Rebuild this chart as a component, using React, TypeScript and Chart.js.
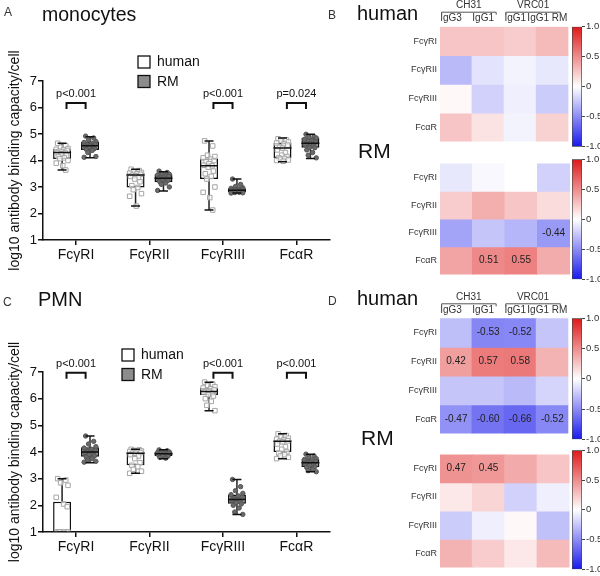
import React, { useEffect, useRef } from 'react';
import { Chart, registerables } from 'chart.js';

Chart.register(...registerables);

const FONT = "'Liberation Sans', Arial, Helvetica, sans-serif";

// ---------- Box plot data ----------
const categories = ['FcγRI', 'FcγRII', 'FcγRIII', 'FcαR'];
const yTicksBox = [1, 2, 3, 4, 5, 6, 7];
const seriesNames = ['human', 'RM'];

// [min, q1, median, q3, max]
const monoHumanStats = [
  [3.64, 4.06, 4.3, 4.43, 4.65],
  [2.28, 2.98, 3.45, 3.52, 3.67],
  [2.13, 3.3, 3.8, 4.08, 4.74],
  [3.95, 4.09, 4.47, 4.66, 4.85],
];
const monoRMStats = [
  [4.1, 4.4, 4.56, 4.71, 4.9],
  [2.85, 3.18, 3.33, 3.48, 3.58],
  [2.77, 2.8, 2.88, 2.95, 3.3],
  [4.08, 4.48, 4.65, 4.86, 4.99],
];
const pmnHumanStats = [
  [1.0, 1.0, 1.0, 2.13, 3.0],
  [3.2, 3.5, 3.95, 4.0, 4.1],
  [5.55, 6.14, 6.27, 6.4, 6.62],
  [3.75, 4.0, 4.4, 4.44, 4.68],
];
const pmnRMStats = [
  [3.6, 3.82, 4.0, 4.18, 4.6],
  [3.75, 3.85, 3.93, 4.0, 4.08],
  [1.66, 2.06, 2.22, 2.41, 2.97],
  [3.26, 3.44, 3.6, 3.73, 3.92],
];

const monoHumanPts = [
  [4.65, 4.55, 4.5, 4.45, 4.42, 4.4, 4.38, 4.35, 4.32, 4.3, 4.28, 4.25, 4.2, 4.15, 4.1, 4.07, 4.0, 3.9, 3.8, 3.64],
  [3.67, 3.62, 3.58, 3.55, 3.52, 3.5, 3.48, 3.45, 3.42, 3.4, 3.35, 3.3, 3.2, 3.05, 2.98, 2.9, 2.75, 2.65, 2.28],
  [4.74, 4.55, 4.2, 4.15, 4.1, 4.05, 4.0, 3.95, 3.88, 3.82, 3.8, 3.75, 3.6, 3.5, 3.4, 3.3, 3.0, 2.8, 2.6, 2.13],
  [4.82, 4.78, 4.75, 4.7, 4.66, 4.62, 4.58, 4.5, 4.47, 4.4, 4.3, 4.2, 4.15, 4.1, 4.08, 4.05, 4.02, 4.0, 3.97],
];
const monoRMPts = [
  [4.92, 4.85, 4.78, 4.72, 4.68, 4.65, 4.62, 4.6, 4.57, 4.55, 4.52, 4.5, 4.45, 4.42, 4.38, 4.3, 4.15, 4.12],
  [3.6, 3.55, 3.5, 3.48, 3.45, 3.42, 3.4, 3.37, 3.35, 3.33, 3.3, 3.28, 3.25, 3.2, 3.15, 3.1, 3.0, 2.87],
  [3.3, 3.1, 3.02, 2.97, 2.95, 2.93, 2.92, 2.9, 2.89, 2.88, 2.87, 2.85, 2.84, 2.82, 2.8, 2.79, 2.78, 2.77],
  [4.99, 4.9, 4.87, 4.85, 4.8, 4.75, 4.7, 4.66, 4.64, 4.6, 4.55, 4.5, 4.48, 4.4, 4.3, 4.2, 4.1],
];
const pmnHumanPts = [
  [3.0, 2.95, 2.85, 2.75, 2.3, 2.05, 1.95, 1.0, 1.0, 1.0, 1.0, 1.0, 1.0, 1.0, 1.0, 1.0, 1.0],
  [4.1, 4.08, 4.06, 4.04, 4.02, 4.0, 3.98, 3.96, 3.95, 3.9, 3.85, 3.75, 3.6, 3.5, 3.45, 3.35, 3.28, 3.2],
  [6.62, 6.55, 6.5, 6.45, 6.4, 6.37, 6.33, 6.3, 6.27, 6.25, 6.2, 6.15, 6.1, 6.0, 5.9, 5.75, 5.55],
  [4.68, 4.62, 4.58, 4.52, 4.48, 4.45, 4.42, 4.4, 4.38, 4.3, 4.2, 4.1, 4.0, 3.95, 3.9, 3.85, 3.8, 3.75],
];
const pmnRMPts = [
  [4.6, 4.4, 4.3, 4.2, 4.15, 4.1, 4.05, 4.02, 4.0, 3.97, 3.93, 3.9, 3.85, 3.8, 3.75, 3.7, 3.65, 3.62],
  [4.08, 4.05, 4.02, 4.0, 3.98, 3.96, 3.95, 3.93, 3.92, 3.9, 3.88, 3.86, 3.84, 3.8, 3.77],
  [2.97, 2.7, 2.55, 2.45, 2.4, 2.35, 2.3, 2.25, 2.22, 2.2, 2.15, 2.1, 2.05, 2.0, 1.9, 1.75, 1.66],
  [3.92, 3.85, 3.8, 3.75, 3.72, 3.68, 3.65, 3.62, 3.6, 3.57, 3.55, 3.5, 3.45, 3.42, 3.35, 3.3, 3.26],
];

const monoPLabels = ['p<0.001', '', 'p<0.001', 'p=0.024'];
const pmnPLabels = ['p<0.001', '', 'p<0.001', 'p<0.001'];

// ---------- Heatmap data ----------
const hmColumns = ['IgG3', 'IgG1', 'IgG1', 'IgG1 RM'];
const hmGroups = ['CH31', 'VRC01'];
const hmGroupSpans = [[0, 1], [2, 3]];
const hmRows = ['FcγRI', 'FcγRII', 'FcγRIII', 'FcαR'];
const colorbarTicks = [-1, -0.5, 0, 0.5, 1];
const SIG = 0.42;

const monoHumanCorr = [
  [0.25, 0.25, 0.22, 0.3],
  [-0.3, -0.12, -0.05, -0.1],
  [0.03, -0.2, -0.07, -0.22],
  [0.25, 0.12, -0.05, 0.2],
];
const monoRMCorr = [
  [-0.1, -0.03, 0.0, -0.2],
  [0.22, 0.35, 0.25, 0.15],
  [-0.4, -0.25, -0.32, -0.44],
  [0.4, 0.51, 0.55, 0.36],
];
const pmnHumanCorr = [
  [-0.28, -0.53, -0.52, -0.25],
  [0.42, 0.57, 0.58, 0.33],
  [-0.25, -0.25, -0.3, -0.18],
  [-0.47, -0.6, -0.66, -0.52],
];
const pmnRMCorr = [
  [0.47, 0.45, 0.37, 0.25],
  [0.1, 0.18, -0.2, -0.07],
  [-0.22, -0.07, 0.03, -0.27],
  [0.33, 0.22, 0.1, 0.3],
];

// ---------- styles ----------
const JITTER = [-0.06, 0.05, -0.02, 0.08, -0.08, 0.02, 0.07, -0.04, 0.0, -0.07, 0.04, -0.01, 0.06, -0.05, 0.03, -0.03, 0.08, -0.08, 0.01, 0.05];
const BOX_OFF = 0.19;
const BRACKET_HALF = 0.13;

const POS = [222, 24, 24];
const NEG = [24, 24, 235];
function corrColor(v: number) {
  const t = Math.min(1, Math.abs(v));
  const end = v >= 0 ? POS : NEG;
  const c = [255, 255, 255].map((m, i) => Math.round(m + (end[i] - m) * t));
  return `rgb(${c[0]},${c[1]},${c[2]})`;
}

function boxDatasets(stats: number[][], pts: number[][], off: number, human: boolean, label: string) {
  const xs = (i: number) => i + 1 + off;
  return [
    {
      type: 'bar', label: label + '-whisker',
      data: stats.map((s, i) => ({ x: xs(i), y: [s[0], s[4]] })),
      backgroundColor: '#222', maxBarThickness: 1.5, grouped: false, order: 5,
    },
    {
      type: 'bar', label,
      data: stats.map((s, i) => ({ x: xs(i), y: [s[1], s[3]] })),
      backgroundColor: human ? '#ffffff' : '#8c8c8c', borderColor: '#111', borderWidth: 1.5,
      borderSkipped: false, maxBarThickness: 18, grouped: false, order: 4,
    },
    {
      type: 'scatter', label: label + '-pts',
      data: pts.flatMap((arr, i) => arr.map((v, j) => ({ x: xs(i) + JITTER[j % JITTER.length], y: v }))),
      pointStyle: human ? 'rect' : 'circle',
      pointRadius: human ? 3.2 : 2.2,
      backgroundColor: human ? 'rgba(255,255,255,0.7)' : '#6a6a6a',
      borderColor: human ? '#a6a6a6' : '#555',
      borderWidth: 1, order: 3,
    },
    {
      type: 'scatter', label: label + '-caps',
      data: stats.flatMap((s, i) => [{ x: xs(i), y: s[0] }, { x: xs(i), y: s[4] }]),
      pointStyle: 'line', pointRadius: 4.5, borderColor: '#111', borderWidth: 1.5, order: 2,
    },
    {
      type: 'scatter', label: label + '-median',
      data: stats.map((s, i) => ({ x: xs(i), y: s[2] })),
      pointStyle: 'line', pointRadius: 9, borderColor: '#111', borderWidth: 1.5, order: 1,
    },
  ];
}

function boxConfig(o: any) {
  const annot = {
    id: 'boxAnnot',
    afterDraw(chart: any) {
      const { ctx } = chart;
      const x = chart.scales.x, y = chart.scales.y;
      ctx.save();
      o.pLabels.forEach((lab: string, i: number) => {
        if (!lab) return;
        const cx = x.getPixelForValue(i + 1);
        const x0 = x.getPixelForValue(i + 1 - BRACKET_HALF);
        const x1 = x.getPixelForValue(i + 1 + BRACKET_HALF);
        const by = y.getPixelForValue(o.bracketVal);
        ctx.strokeStyle = '#111';
        ctx.lineWidth = 2;
        ctx.beginPath();
        ctx.moveTo(x0, by + 6); ctx.lineTo(x0, by); ctx.lineTo(x1, by); ctx.lineTo(x1, by + 6);
        ctx.stroke();
        ctx.fillStyle = '#111';
        ctx.font = `11px ${FONT}`;
        ctx.textAlign = 'center';
        ctx.textBaseline = 'middle';
        ctx.fillText(lab, cx, by - 9);
      });
      // legend
      seriesNames.forEach((name, k) => {
        const lx = o.legendX, ly = o.legendY + k * 19.5;
        ctx.fillStyle = k === 0 ? '#fff' : '#8c8c8c';
        ctx.fillRect(lx, ly, 12, 12);
        ctx.strokeStyle = '#111';
        ctx.lineWidth = 1.3;
        ctx.strokeRect(lx, ly, 12, 12);
        ctx.fillStyle = '#111';
        ctx.font = `14px ${FONT}`;
        ctx.textAlign = 'left';
        ctx.textBaseline = 'middle';
        ctx.fillText(name, lx + 19, ly + 6.5);
      });
      ctx.restore();
    },
  };
  return {
    type: 'bar',
    data: {
      datasets: [
        ...boxDatasets(o.hStats, o.hPts, -BOX_OFF, true, seriesNames[0]),
        ...boxDatasets(o.rStats, o.rPts, BOX_OFF, false, seriesNames[1]),
      ],
    },
    options: {
      responsive: false, animation: false, devicePixelRatio: 1, events: [],
      layout: { padding: { top: o.padTop, right: 10, left: 0, bottom: 0 } },
      plugins: { legend: { display: false }, tooltip: { enabled: false } },
      scales: {
        x: {
          type: 'linear', min: 0.55, max: 4.45, offset: false,
          afterBuildTicks: (s: any) => { s.ticks = categories.map((_, i) => ({ value: i + 1 })); },
          ticks: {
            callback: (v: any) => categories[Math.round(+v) - 1] ?? '',
            font: { size: 14, family: FONT }, color: '#111', padding: 2, maxRotation: 0, autoSkip: false,
          },
          grid: { drawOnChartArea: false, tickLength: 5, color: '#111', lineWidth: 1.5, offset: false },
          border: { color: '#111', width: 1.5 },
          afterFit: (s: any) => { s.height = o.xAxisH; },
        },
        y: {
          type: 'linear', min: 1, max: 7,
          afterBuildTicks: (s: any) => { s.ticks = yTicksBox.map((v) => ({ value: v })); },
          ticks: { font: { size: 13, family: FONT }, color: '#111', padding: 1 },
          grid: { drawOnChartArea: false, tickLength: 5, color: '#111', lineWidth: 1.5 },
          border: { color: '#111', width: 1.5 },
          title: {
            display: true, text: 'log10 antibody binding capacity/cell',
            font: { size: 14, family: FONT }, color: '#111', padding: { top: 7, bottom: 0 },
          },
          afterFit: (s: any) => { s.width = 43; },
        },
      },
    },
    plugins: [annot],
  };
}

function heatmapConfig(values: number[][], o: any) {
  const plug = {
    id: 'hmAnnot',
    afterDatasetsDraw(chart: any) {
      const { ctx, chartArea } = chart;
      const x = chart.scales.x, y = chart.scales.y;
      ctx.save();
      ctx.font = `10px ${FONT}`;
      ctx.fillStyle = '#222';
      ctx.textAlign = 'center';
      ctx.textBaseline = 'middle';
      values.forEach((row, r) => row.forEach((v, c) => {
        if (Math.abs(v) >= SIG) {
          ctx.fillText(v.toFixed(2), x.getPixelForValue(c), y.getPixelForValue(r + 0.5));
        }
      }));
      if (o.header) {
        const colW = x.getPixelForValue(1) - x.getPixelForValue(0);
        const top = chartArea.top;
        hmGroups.forEach((g, k) => {
          const [a, b] = hmGroupSpans[k];
          const x0 = x.getPixelForValue(a) - 0.45 * colW;
          const x1 = x.getPixelForValue(b) + 0.25 * colW;
          ctx.strokeStyle = '#555';
          ctx.lineWidth = 1;
          ctx.beginPath();
          ctx.moveTo(x0, top - 12); ctx.lineTo(x0, top - 14.5); ctx.lineTo(x1, top - 14.5); ctx.lineTo(x1, top - 12);
          ctx.stroke();
          ctx.fillStyle = '#333';
          ctx.font = `10px ${FONT}`;
          ctx.fillText(g, (x0 + x1) / 2, top - 21);
        });
      }
      ctx.restore();
    },
  };
  return {
    type: 'bar',
    data: {
      labels: hmColumns,
      datasets: values.map((row, r) => ({
        label: hmRows[r],
        data: row.map(() => [r, r + 1]),
        backgroundColor: row.map((v) => corrColor(v)),
        borderWidth: 0, grouped: false, barPercentage: 1, categoryPercentage: 1, inflateAmount: 0.5,
      })),
    },
    options: {
      responsive: false, animation: false, devicePixelRatio: 1, events: [],
      layout: { padding: { top: o.padTop, bottom: o.padBottom, right: o.padRight, left: 0 } },
      plugins: { legend: { display: false }, tooltip: { enabled: false } },
      scales: {
        x: {
          position: 'top', display: !!o.header, offset: true,
          grid: { display: false, drawTicks: false, tickLength: 0 }, border: { display: false },
          ticks: { font: { size: 10, family: FONT }, color: '#333', padding: 2, labelOffset: -5, maxRotation: 0, autoSkip: false },
          afterFit: (s: any) => { s.height = o.xAxisH; },
        },
        y: {
          type: 'linear', min: 0, max: 4, reverse: true,
          afterBuildTicks: (s: any) => { s.ticks = hmRows.map((_, i) => ({ value: i + 0.5 })); },
          ticks: { callback: (v: any) => hmRows[Math.floor(+v)] ?? '', font: { size: 9, family: FONT }, color: '#333', padding: 3 },
          grid: { display: false, drawTicks: false, tickLength: 0 }, border: { display: false },
          afterFit: (s: any) => { s.width = 110; },
        },
      },
    },
    plugins: [plug],
  };
}

function colorbarConfig(padTop: number, padBottom: number) {
  return {
    type: 'bar',
    data: {
      labels: [''],
      datasets: [{
        data: [[colorbarTicks[0], colorbarTicks[colorbarTicks.length - 1]]],
        backgroundColor: (ctx: any) => {
          const chart = ctx.chart;
          const y = chart.scales.y;
          if (!chart.chartArea || !y) return '#fff';
          const y0 = y.getPixelForValue(1), y1 = y.getPixelForValue(-1);
          const g = chart.ctx.createLinearGradient(0, y0, 0, y1);
          colorbarTicks.slice().reverse().forEach((v) => {
            g.addColorStop((y.getPixelForValue(v) - y0) / (y1 - y0), corrColor(v));
          });
          return g;
        },
        borderColor: '#444', borderWidth: 1, borderSkipped: false,
        barPercentage: 1, categoryPercentage: 1,
      }],
    },
    options: {
      responsive: false, animation: false, devicePixelRatio: 1, events: [],
      layout: { padding: { top: padTop, bottom: padBottom, left: 7, right: 0 } },
      plugins: { legend: { display: false }, tooltip: { enabled: false } },
      scales: {
        x: { display: false },
        y: {
          position: 'right', min: -1, max: 1,
          afterBuildTicks: (s: any) => { s.ticks = colorbarTicks.map((v) => ({ value: v })); },
          ticks: {
            callback: (v: any) => (+v === 0 ? '0' : (+v).toFixed(1)),
            font: { size: 9.5, family: FONT }, color: '#333', padding: 1,
          },
          grid: { drawOnChartArea: false, tickLength: 3, color: '#444' },
          border: { display: false },
          afterFit: (s: any) => { s.width = 18; },
        },
      },
    },
  };
}

function ChartCanvas({ left, top, width, height, config }: any) {
  const ref = useRef<HTMLCanvasElement>(null);
  useEffect(() => {
    const chart = new Chart(ref.current as HTMLCanvasElement, config);
    return () => chart.destroy();
  }, []);
  return (
    <div style={{ position: 'absolute', left, top, width, height }}>
      <canvas ref={ref} width={width} height={height} style={{ width, height, display: 'block' }} />
    </div>
  );
}

function Txt({ left, top, size, children, color = '#111' }: any) {
  return (
    <div style={{ position: 'absolute', left, top, fontSize: size, lineHeight: 1, color, whiteSpace: 'nowrap', fontFamily: FONT }}>
      {children}
    </div>
  );
}

export default function App() {
  const boxA = boxConfig({ hStats: monoHumanStats, rStats: monoRMStats, hPts: monoHumanPts, rPts: monoRMPts, pLabels: monoPLabels, padTop: 81, xAxisH: 50, bracketVal: 6.17, legendX: 138, legendY: 56 });
  const boxC = boxConfig({ hStats: pmnHumanStats, rStats: pmnRMStats, hPts: pmnHumanPts, rPts: pmnRMPts, pLabels: pmnPLabels, padTop: 82, xAxisH: 44, bracketVal: 6.97, legendX: 122, legendY: 59 });
  return (
    <div style={{ position: 'fixed', left: 0, top: 0, width: 600, height: 576, background: '#fff', overflow: 'hidden' }}>
      <ChartCanvas left={0} top={0} width={340} height={290} config={boxA} />
      <ChartCanvas left={0} top={290} width={340} height={286} config={boxC} />

      <ChartCanvas left={330} top={0} width={245} height={150} config={heatmapConfig(monoHumanCorr, { header: true, xAxisH: 26.7, padTop: 0, padBottom: 3.3, padRight: 5 })} />
      <ChartCanvas left={330} top={155} width={245} height={128} config={heatmapConfig(monoRMCorr, { header: false, xAxisH: 0, padTop: 4.3, padBottom: 3.7, padRight: 5 })} />
      <ChartCanvas left={330} top={290} width={245} height={152} config={heatmapConfig(pmnHumanCorr, { header: true, xAxisH: 28.3, padTop: 0, padBottom: 2.7, padRight: 5.5 })} />
      <ChartCanvas left={330} top={446} width={245} height={130} config={heatmapConfig(pmnRMCorr, { header: false, xAxisH: 0, padTop: 4.3, padBottom: 4, padRight: 5.5 })} />

      <ChartCanvas left={565} top={20} width={35} height={134} config={colorbarConfig(6.7, 7.3)} />
      <ChartCanvas left={565} top={152} width={35} height={134} config={colorbarConfig(7.3, 6.7)} />
      <ChartCanvas left={565} top={311} width={35} height={136} config={colorbarConfig(7.3, 7.7)} />
      <ChartCanvas left={565} top={443} width={35} height={133} config={colorbarConfig(7.3, 4)} />

      <Txt left={4} top={6} size={12} color="#333">A</Txt>
      <Txt left={42} top={4.5} size={19.5}>monocytes</Txt>
      <Txt left={3} top={296} size={12} color="#333">C</Txt>
      <Txt left={38} top={289} size={20}>PMN</Txt>

      <Txt left={328} top={9} size={12} color="#333">B</Txt>
      <Txt left={357} top={3} size={20}>human</Txt>
      <Txt left={358} top={140} size={21}>RM</Txt>
      <Txt left={328} top={295} size={12} color="#333">D</Txt>
      <Txt left={357} top={288} size={20}>human</Txt>
      <Txt left={361} top={427} size={21}>RM</Txt>
    </div>
  );
}
